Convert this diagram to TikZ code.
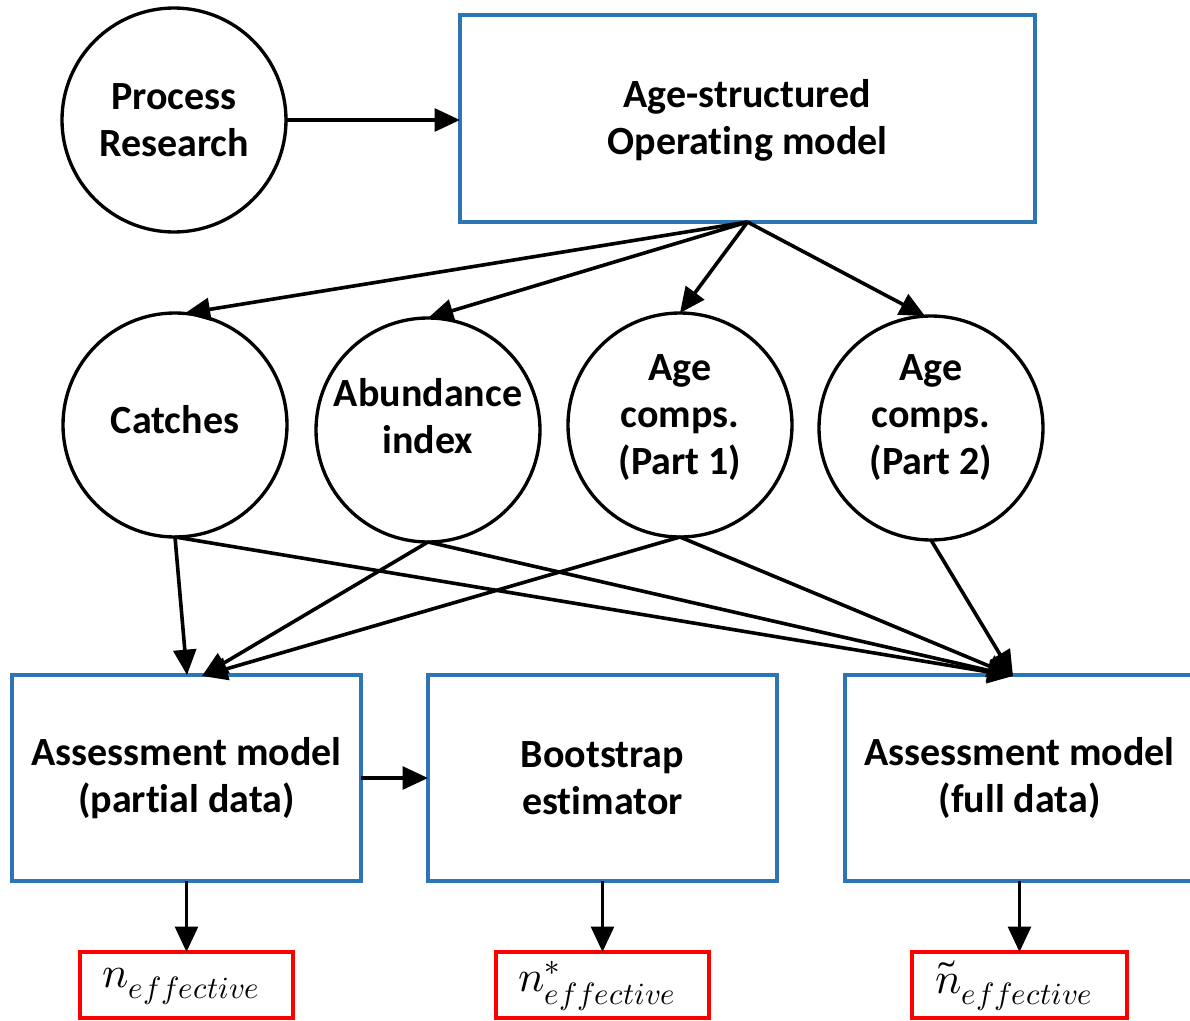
\documentclass[tikz,border=0pt]{standalone}
\usepackage{fontspec}
\usepackage{unicode-math}
\setmainfont{Carlito}[Ligatures={NoCommon}]
\setmathfont{Latin Modern Math}
\usetikzlibrary{arrows.meta}
\definecolor{boxblue}{RGB}{46,117,182}
\definecolor{boxred}{RGB}{255,0,0}
\begin{document}
\begin{tikzpicture}[x=0.75pt,y=-0.75pt,
  every node/.style={inner sep=0pt,outer sep=0pt},
  txt/.style={align=center,font=\fontsize{30}{35.25}\selectfont\bfseries},
  circ/.style={circle,draw=black,line width=2.5pt,minimum size=168pt},
  bbox/.style={rectangle,draw=boxblue,line width=3pt,minimum width=261.75pt,minimum height=154.5pt},
  rbox/.style={rectangle,draw=boxred,line width=2.6pt,minimum width=160pt,minimum height=49.5pt},
  arr/.style={line width=2.7pt,-{Triangle[length=19pt,width=17pt]}},
  mtxt/.style={font=\fontsize{33}{38}\selectfont}
]
\useasboundingbox (0,0) rectangle (1190,1021);
% top row
\node[circ] (pr) at (174,120) {};
\node[txt] (prt) at (174,120) {Process\\Research};
\node[bbox,minimum width=431.25pt,minimum height=155.25pt] (om) at (747.5,118.5) {};
\node[txt] (omt) at (747.5,120) {Age-structured\\Operating model};
% middle row
\node[circ] (ca) at (175,425) {};
\node[txt] (cat) at (175,420) {Catches};
\node[circ] (ab) at (428,430) {};
\node[txt] (abt) at (428,416) {Abundance\\index};
\node[circ] (p1) at (680,425) {};
\node[txt] (p1t) at (680,418) {Age\\comps.\\(Part 1)};
\node[circ] (p2) at (931,428) {};
\node[txt] (p2t) at (931,418) {Age\\comps.\\(Part 2)};
% bottom row
\node[bbox] (amp) at (186.5,778) {};
\node[txt] (ampt) at (186.5,778) {Assessment model\\(partial data)};
\node[bbox] (bs) at (602.5,778) {};
\node[txt] (bst) at (602.5,778) {Bootstrap\\estimator};
\node[bbox] (amf) at (1019.5,778) {};
\node[txt] (amft) at (1019.5,778) {Assessment model\\(full data)};
% outputs
\node[rbox] (r1) at (186.5,985) {};
\node[mtxt] (r1t) at (181,986) {$n_{effective}$};
\node[rbox] (r2) at (602.5,985) {};
\node[mtxt] (r2t) at (597,986) {$n^{*}_{effective}$};
\node[rbox,minimum width=161.25pt] (r3) at (1019.5,985) {};
\node[mtxt] (r3t) at (1014,986) {$\tilde{n}_{effective}$};
% target coordinates
\coordinate (tpa) at (187,675);
\coordinate (tpb) at (202,676);
\coordinate (tf) at (1013,676);
% connectors
\draw[arr] (pr.east) -- (om.west |- pr.east);
\draw[arr] (om.south) -- (ca.85);
\draw[arr] (om.south) -- (ab.north);
\draw[arr] (om.south) -- (p1.north);
\draw[arr] (om.south) -- (p2.93);
\draw[arr] (ca.south) -- (tpa);
\draw[arr] (ab.south) -- (tpb);
\draw[arr] (p1.south) -- (tpb);
\draw[arr] (ca.south) -- (tf);
\draw[arr] (ab.south) -- (tf);
\draw[arr] (p1.south) -- (tf);
\draw[arr] (p2.south) -- (tf);
\draw[arr] (amp.east) -- (bs.west);
\draw[arr] (amp.south) -- (r1.north);
\draw[arr] (bs.south) -- (r2.north);
\draw[arr] (amf.south) -- (r3.north);
\end{tikzpicture}
\end{document}
